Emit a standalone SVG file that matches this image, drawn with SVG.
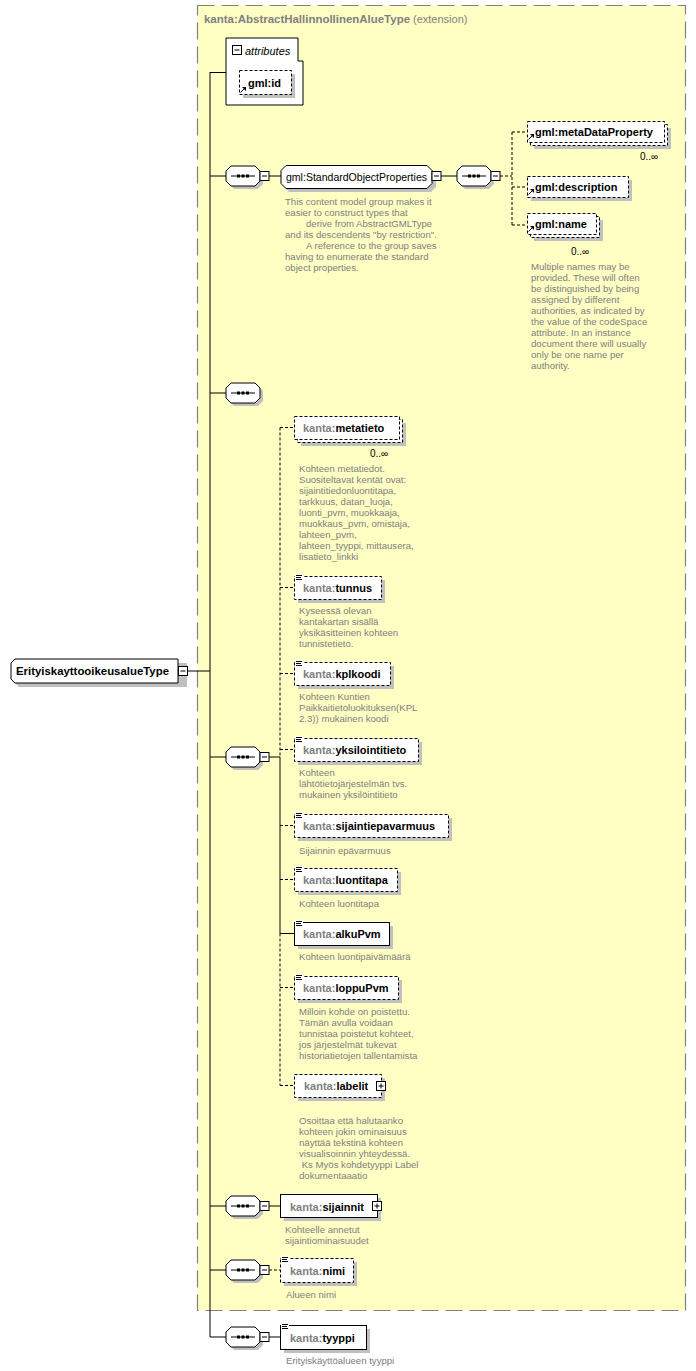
<svg xmlns="http://www.w3.org/2000/svg" xmlns:xlink="http://www.w3.org/1999/xlink" width="696" height="1371" viewBox="0 0 696 1371">
<style>
.lbl{font-family:"Liberation Sans",Arial,sans-serif;font-size:11px;font-weight:bold;fill:#000}
.pre{fill:#808080}
.nrm{font-family:"Liberation Sans",Arial,sans-serif;font-size:11px;fill:#000}
.desc{font-family:"Liberation Sans",Arial,sans-serif;font-size:9.6px;fill:#808080}
.occ{font-family:"Liberation Sans",Arial,sans-serif;font-size:10px;fill:#000}
.box{fill:#fff;stroke:#000;stroke-width:1}
.dbox{fill:#fff;stroke:#000;stroke-width:1;stroke-dasharray:3,2}
.sh{fill:#c0c0c0}
.ln{stroke:#000;stroke-width:1;fill:none}
.dln{stroke:#000;stroke-width:1;fill:none;stroke-dasharray:3,2}
.ic{stroke:#000;stroke-width:1}
</style>
<defs>
<g id="seq">
<path d="M8,3 H32 L37,8 V18 L32,23 H8 L3,18 V8 Z" class="sh"/>
<path d="M5,0 H29 L34,5 V15 L29,20 H5 L0,15 V5 Z" class="box"/>
<line x1="5" y1="10" x2="29" y2="10" class="ln"/>
<rect x="11" y="8.5" width="3" height="3" fill="#000"/>
<rect x="15.5" y="8.5" width="3" height="3" fill="#000"/>
<rect x="20" y="8.5" width="3" height="3" fill="#000"/>
</g>
<g id="minus">
<rect x="0" y="0" width="9" height="9" class="box"/>
<line x1="2" y1="4.5" x2="7" y2="4.5" class="ln"/>
</g>
<g id="plus">
<rect x="0" y="0" width="9" height="9" class="box"/>
<line x1="2" y1="4.5" x2="7" y2="4.5" class="ln"/>
<line x1="4.5" y1="2" x2="4.5" y2="7" class="ln"/>
</g>
<g id="doc">
<rect x="0" y="-1" width="8" height="7" fill="#fff"/>
<line x1="1" y1="0.5" x2="7" y2="0.5" class="ic"/>
<line x1="1" y1="2.5" x2="6" y2="2.5" class="ic"/>
<line x1="1" y1="4.5" x2="7" y2="4.5" class="ic"/>
</g>
<g id="ref">
<line x1="0.5" y1="6.5" x2="4" y2="3" class="ic" stroke-width="1.3"/>
<polygon points="2,1 6,1 6,5" fill="#000"/>
</g>
</defs>

<!-- extension frame -->
<g id="extension">
<rect x="197.5" y="5.5" width="488" height="1305" fill="#ffffc4" stroke="#808080" stroke-width="1.2" stroke-dasharray="17,7"/>
<text x="204" y="23" class="lbl" style="fill:#808080" textLength="206" lengthAdjust="spacingAndGlyphs">kanta:AbstractHallinnollinenAlueType</text>
<text x="413" y="23" class="nrm" style="fill:#808080">(extension)</text>
</g>

<!-- connectors -->
<g id="connectors">
<line x1="210" y1="72" x2="210" y2="1337" class="ln"/>
<line x1="188" y1="671" x2="210" y2="671" class="ln"/>
<line x1="210" y1="72.5" x2="226" y2="72.5" class="ln"/>
<line x1="210" y1="176" x2="226" y2="176" class="ln"/>
<line x1="269" y1="176" x2="281" y2="176" class="ln"/>
<line x1="441" y1="176" x2="457" y2="176" class="ln"/>
<line x1="500" y1="176" x2="512" y2="176" class="dln"/>
<line x1="512" y1="132" x2="512" y2="225" class="dln"/>
<line x1="512" y1="132" x2="527" y2="132" class="dln"/>
<line x1="512" y1="187" x2="527" y2="187" class="dln"/>
<line x1="512" y1="225" x2="527" y2="225" class="dln"/>
<line x1="210" y1="393" x2="226" y2="393" class="ln"/>
<line x1="210" y1="757" x2="226" y2="757" class="ln"/>
<line x1="269" y1="757" x2="280" y2="757" class="ln"/>
<line x1="280" y1="427.5" x2="280" y2="757" class="dln"/>
<line x1="280" y1="757" x2="280" y2="933.5" class="ln"/>
<line x1="280" y1="933.5" x2="280" y2="1085.5" class="dln"/>
<line x1="280" y1="427.5" x2="294" y2="427.5" class="dln"/>
<line x1="280" y1="587.5" x2="294" y2="587.5" class="dln"/>
<line x1="280" y1="673.5" x2="294" y2="673.5" class="dln"/>
<line x1="280" y1="749.5" x2="294" y2="749.5" class="dln"/>
<line x1="280" y1="825.5" x2="294" y2="825.5" class="dln"/>
<line x1="280" y1="879.5" x2="294" y2="879.5" class="dln"/>
<line x1="280" y1="933.5" x2="294" y2="933.5" class="ln"/>
<line x1="280" y1="987.5" x2="294" y2="987.5" class="dln"/>
<line x1="280" y1="1085.5" x2="294" y2="1085.5" class="dln"/>
<line x1="210" y1="1206" x2="226" y2="1206" class="ln"/>
<line x1="269" y1="1206" x2="280" y2="1206" class="ln"/>
<line x1="210" y1="1270" x2="226" y2="1270" class="ln"/>
<line x1="269" y1="1270" x2="280" y2="1270" class="dln"/>
<line x1="210" y1="1337" x2="226" y2="1337" class="ln"/>
<line x1="269" y1="1337" x2="280" y2="1337" class="ln"/>
</g>

<!-- root type -->
<g id="ErityiskayttooikeusalueType">
<path d="M19,663 H187 V687 H19 L15,683 V667 Z" class="sh"/>
<path d="M15,659 H178 V683 H15 L11,679 V663 Z" class="box"/>
<text x="16" y="675" class="lbl" textLength="153" lengthAdjust="spacingAndGlyphs">ErityiskayttooikeusalueType</text>
<use xlink:href="#minus" x="178.5" y="666.5"/>
</g>

<!-- attributes -->
<g id="attributes">
<polygon points="226,38 298,38 298,61 303,61 303,105 226,105" class="box"/>
<use xlink:href="#minus" x="232.5" y="45.5"/>
<text x="245" y="55" class="nrm" font-style="italic">attributes</text>
</g>
<g id="gml-id">
<rect x="243" y="74" width="52" height="24" class="sh"/>
<rect x="239.5" y="70.5" width="52" height="24" class="dbox"/>
<text x="248" y="87" class="lbl">gml:id</text>
<use xlink:href="#ref" x="240" y="86"/>
</g>

<!-- StandardObjectProperties -->
<g id="seq-sop">
<use xlink:href="#seq" x="226" y="166"/>
<use xlink:href="#minus" x="260" y="171.5"/>
</g>
<g id="gml-StandardObjectProperties">
<path d="M289,169 H431 L436,174 V187 L431,192 H289 L284,187 V174 Z" class="sh"/>
<path d="M286,165.5 H427 L432,170.5 V183.5 L427,188.5 H286 L281,183.5 V170.5 Z" class="box"/>
<text x="286" y="181" class="nrm" textLength="141" lengthAdjust="spacingAndGlyphs">gml:StandardObjectProperties</text>
<use xlink:href="#minus" x="432" y="171.5"/>
<text class="desc"><tspan x="285" y="205">This content model group makes it</tspan><tspan x="285" y="216">easier to construct types that</tspan><tspan x="306" y="227">derive from AbstractGMLType</tspan><tspan x="285" y="238">and its descendents "by restriction".</tspan><tspan x="306" y="249">A reference to the group saves</tspan><tspan x="285" y="260">having to enumerate the standard</tspan><tspan x="285" y="271">object properties.</tspan></text>
</g>
<g id="seq-sop-inner">
<use xlink:href="#seq" x="457" y="166"/>
<use xlink:href="#minus" x="491" y="171.5"/>
</g>
<g id="gml-metaDataProperty">
<rect x="534" y="128" width="137" height="21" class="sh"/>
<rect x="530.5" y="124.5" width="137" height="21" class="dbox"/>
<rect x="527.5" y="121.5" width="137" height="21" class="dbox"/>
<text x="535" y="136" class="lbl">gml:metaDataProperty</text>
<use xlink:href="#ref" x="528" y="133"/>
<text x="640" y="160" class="occ">0..∞</text>
</g>
<g id="gml-description">
<rect x="531" y="180" width="101" height="21" class="sh"/>
<rect x="527.5" y="176.5" width="101" height="21" class="dbox"/>
<text x="535" y="191" class="lbl">gml:description</text>
<use xlink:href="#ref" x="528" y="188"/>
</g>
<g id="gml-name">
<rect x="534" y="220" width="69" height="21" class="sh"/>
<rect x="530.5" y="216.5" width="69" height="21" class="dbox"/>
<rect x="527.5" y="213.5" width="69" height="21" class="dbox"/>
<text x="535" y="228" class="lbl">gml:name</text>
<use xlink:href="#ref" x="528" y="225"/>
<text x="571" y="255" class="occ">0..∞</text>
<text class="desc"><tspan x="531" y="270">Multiple names may be</tspan><tspan x="531" y="281">provided.  These will often</tspan><tspan x="531" y="292">be distinguished by being</tspan><tspan x="531" y="303">assigned by different</tspan><tspan x="531" y="314">authorities, as indicated by</tspan><tspan x="531" y="325">the value of the codeSpace</tspan><tspan x="531" y="336">attribute.  In an instance</tspan><tspan x="531" y="347">document there will usually</tspan><tspan x="531" y="358">only be one name per</tspan><tspan x="531" y="369">authority.</tspan></text>
</g>

<!-- empty sequence -->
<g id="seq-empty">
<use xlink:href="#seq" x="226" y="383"/>
</g>

<!-- main sequence -->
<g id="seq-main">
<use xlink:href="#seq" x="226" y="747"/>
<use xlink:href="#minus" x="260" y="752.5"/>
</g>
<g id="kanta-metatieto">
<rect x="301" y="423" width="105" height="23" class="sh"/>
<rect x="297.5" y="419.5" width="105" height="23" class="dbox"/>
<rect x="294.5" y="416.5" width="105" height="23" class="dbox"/>
<text x="303" y="432" class="lbl"><tspan class="pre">kanta:</tspan>metatieto</text>
<text x="370" y="457" class="occ">0..∞</text>
<text class="desc"><tspan x="299" y="472">Kohteen metatiedot.</tspan><tspan x="299" y="483">Suositeltavat kentät ovat:</tspan><tspan x="299" y="494">sijaintitiedonluontitapa,</tspan><tspan x="299" y="505">tarkkuus, datan_luoja,</tspan><tspan x="299" y="516">luonti_pvm, muokkaaja,</tspan><tspan x="299" y="527">muokkaus_pvm, omistaja,</tspan><tspan x="299" y="538">lahteen_pvm,</tspan><tspan x="299" y="549">lahteen_tyyppi, mittausera,</tspan><tspan x="299" y="560">lisatieto_linkki</tspan></text>
</g>
<g id="kanta-tunnus">
<rect x="298" y="580" width="87" height="23" class="sh"/>
<rect x="294.5" y="576.5" width="87" height="23" class="dbox"/>
<use xlink:href="#doc" x="295" y="575"/>
<text x="303" y="592" class="lbl"><tspan class="pre">kanta:</tspan>tunnus</text>
<text class="desc"><tspan x="299" y="614">Kyseessä olevan</tspan><tspan x="299" y="625">kantakartan sisällä</tspan><tspan x="299" y="636">yksikäsitteinen kohteen</tspan><tspan x="299" y="647">tunnistetieto.</tspan></text>
</g>
<g id="kanta-kplkoodi">
<rect x="298" y="666" width="96" height="23" class="sh"/>
<rect x="294.5" y="662.5" width="96" height="23" class="dbox"/>
<use xlink:href="#doc" x="295" y="661"/>
<text x="303" y="678" class="lbl"><tspan class="pre">kanta:</tspan>kplkoodi</text>
<text class="desc"><tspan x="299" y="700">Kohteen Kuntien</tspan><tspan x="299" y="711">Paikkaitietoluokituksen(KPL</tspan><tspan x="299" y="722">2.3)) mukainen koodi</tspan></text>
</g>
<g id="kanta-yksilointitieto">
<rect x="298" y="742" width="124" height="23" class="sh"/>
<rect x="294.5" y="738.5" width="124" height="23" class="dbox"/>
<use xlink:href="#doc" x="295" y="737"/>
<text x="303" y="754" class="lbl"><tspan class="pre">kanta:</tspan>yksilointitieto</text>
<text class="desc"><tspan x="299" y="776">Kohteen</tspan><tspan x="299" y="787">lähtötietojärjestelmän  tvs.</tspan><tspan x="299" y="798">mukainen yksilöintitieto</tspan></text>
</g>
<g id="kanta-sijaintiepavarmuus">
<rect x="298" y="818" width="154" height="23" class="sh"/>
<rect x="294.5" y="814.5" width="154" height="23" class="dbox"/>
<use xlink:href="#doc" x="295" y="813"/>
<text x="303" y="830" class="lbl"><tspan class="pre">kanta:</tspan>sijaintiepavarmuus</text>
<text class="desc"><tspan x="299" y="854">Sijainnin epävarmuus</tspan></text>
</g>
<g id="kanta-luontitapa">
<rect x="298" y="872" width="103" height="23" class="sh"/>
<rect x="294.5" y="868.5" width="103" height="23" class="dbox"/>
<use xlink:href="#doc" x="295" y="867"/>
<text x="303" y="884" class="lbl"><tspan class="pre">kanta:</tspan>luontitapa</text>
<text class="desc"><tspan x="299" y="907">Kohteen luontitapa</tspan></text>
</g>
<g id="kanta-alkuPvm">
<rect x="298" y="926" width="95" height="23" class="sh"/>
<rect x="294.5" y="922.5" width="95" height="23" class="box"/>
<use xlink:href="#doc" x="295" y="921"/>
<text x="303" y="938" class="lbl"><tspan class="pre">kanta:</tspan>alkuPvm</text>
<text class="desc"><tspan x="299" y="960">Kohteen luontipäivämäärä</tspan></text>
</g>
<g id="kanta-loppuPvm">
<rect x="298" y="980" width="104" height="23" class="sh"/>
<rect x="294.5" y="976.5" width="104" height="23" class="dbox"/>
<use xlink:href="#doc" x="295" y="975"/>
<text x="303" y="992" class="lbl"><tspan class="pre">kanta:</tspan>loppuPvm</text>
<text class="desc"><tspan x="299" y="1015">Milloin kohde on poistettu.</tspan><tspan x="299" y="1026">Tämän avulla voidaan</tspan><tspan x="299" y="1037">tunnistaa poistetut kohteet,</tspan><tspan x="299" y="1048">jos järjestelmät tukevat</tspan><tspan x="299" y="1059">historiatietojen tallentamista</tspan></text>
</g>
<g id="kanta-labelit">
<rect x="298" y="1078" width="87" height="23" class="sh"/>
<rect x="294.5" y="1074.5" width="87" height="23" class="dbox"/>
<text x="304" y="1090" class="lbl"><tspan class="pre">kanta:</tspan>labelit</text>
<use xlink:href="#plus" x="376.5" y="1081.5"/>
<text class="desc"><tspan x="299" y="1124">Osoittaa että halutaanko</tspan><tspan x="299" y="1135">kohteen jokin ominaisuus</tspan><tspan x="299" y="1146">näyttää tekstinä kohteen</tspan><tspan x="299" y="1157">visualisoinnin yhteydessä.</tspan><tspan x="299" y="1168"> Ks Myös kohdetyyppi Label</tspan><tspan x="299" y="1179">dokumentaaatio</tspan></text>
</g>

<!-- sijainnit -->
<g id="seq-sijainnit">
<use xlink:href="#seq" x="226" y="1196"/>
<use xlink:href="#minus" x="260" y="1201.5"/>
</g>
<g id="kanta-sijainnit">
<rect x="284" y="1198" width="97" height="23" class="sh"/>
<rect x="280.5" y="1194.5" width="97" height="23" class="box"/>
<text x="290" y="1211" class="lbl"><tspan class="pre">kanta:</tspan>sijainnit</text>
<use xlink:href="#plus" x="372.5" y="1201.5"/>
<text class="desc"><tspan x="285" y="1233">Kohteelle annetut</tspan><tspan x="285" y="1244">sijaintiominaisuudet</tspan></text>
</g>

<!-- nimi -->
<g id="seq-nimi">
<use xlink:href="#seq" x="226" y="1260"/>
<use xlink:href="#minus" x="260" y="1265.5"/>
</g>
<g id="kanta-nimi">
<rect x="284" y="1262" width="73" height="24" class="sh"/>
<rect x="280.5" y="1258.5" width="73" height="24" class="dbox"/>
<use xlink:href="#doc" x="281" y="1257"/>
<text x="290" y="1275" class="lbl"><tspan class="pre">kanta:</tspan>nimi</text>
<text class="desc"><tspan x="286" y="1298">Alueen nimi</tspan></text>
</g>

<!-- tyyppi -->
<g id="seq-tyyppi">
<use xlink:href="#seq" x="226" y="1327"/>
<use xlink:href="#minus" x="260" y="1332.5"/>
</g>
<g id="kanta-tyyppi">
<rect x="284" y="1329" width="86" height="24" class="sh"/>
<rect x="280.5" y="1325.5" width="86" height="24" class="box"/>
<use xlink:href="#doc" x="281" y="1324"/>
<text x="290" y="1342" class="lbl"><tspan class="pre">kanta:</tspan>tyyppi</text>
<text class="desc"><tspan x="286" y="1364">Erityiskäyttöalueen tyyppi</tspan></text>
</g>
</svg>
